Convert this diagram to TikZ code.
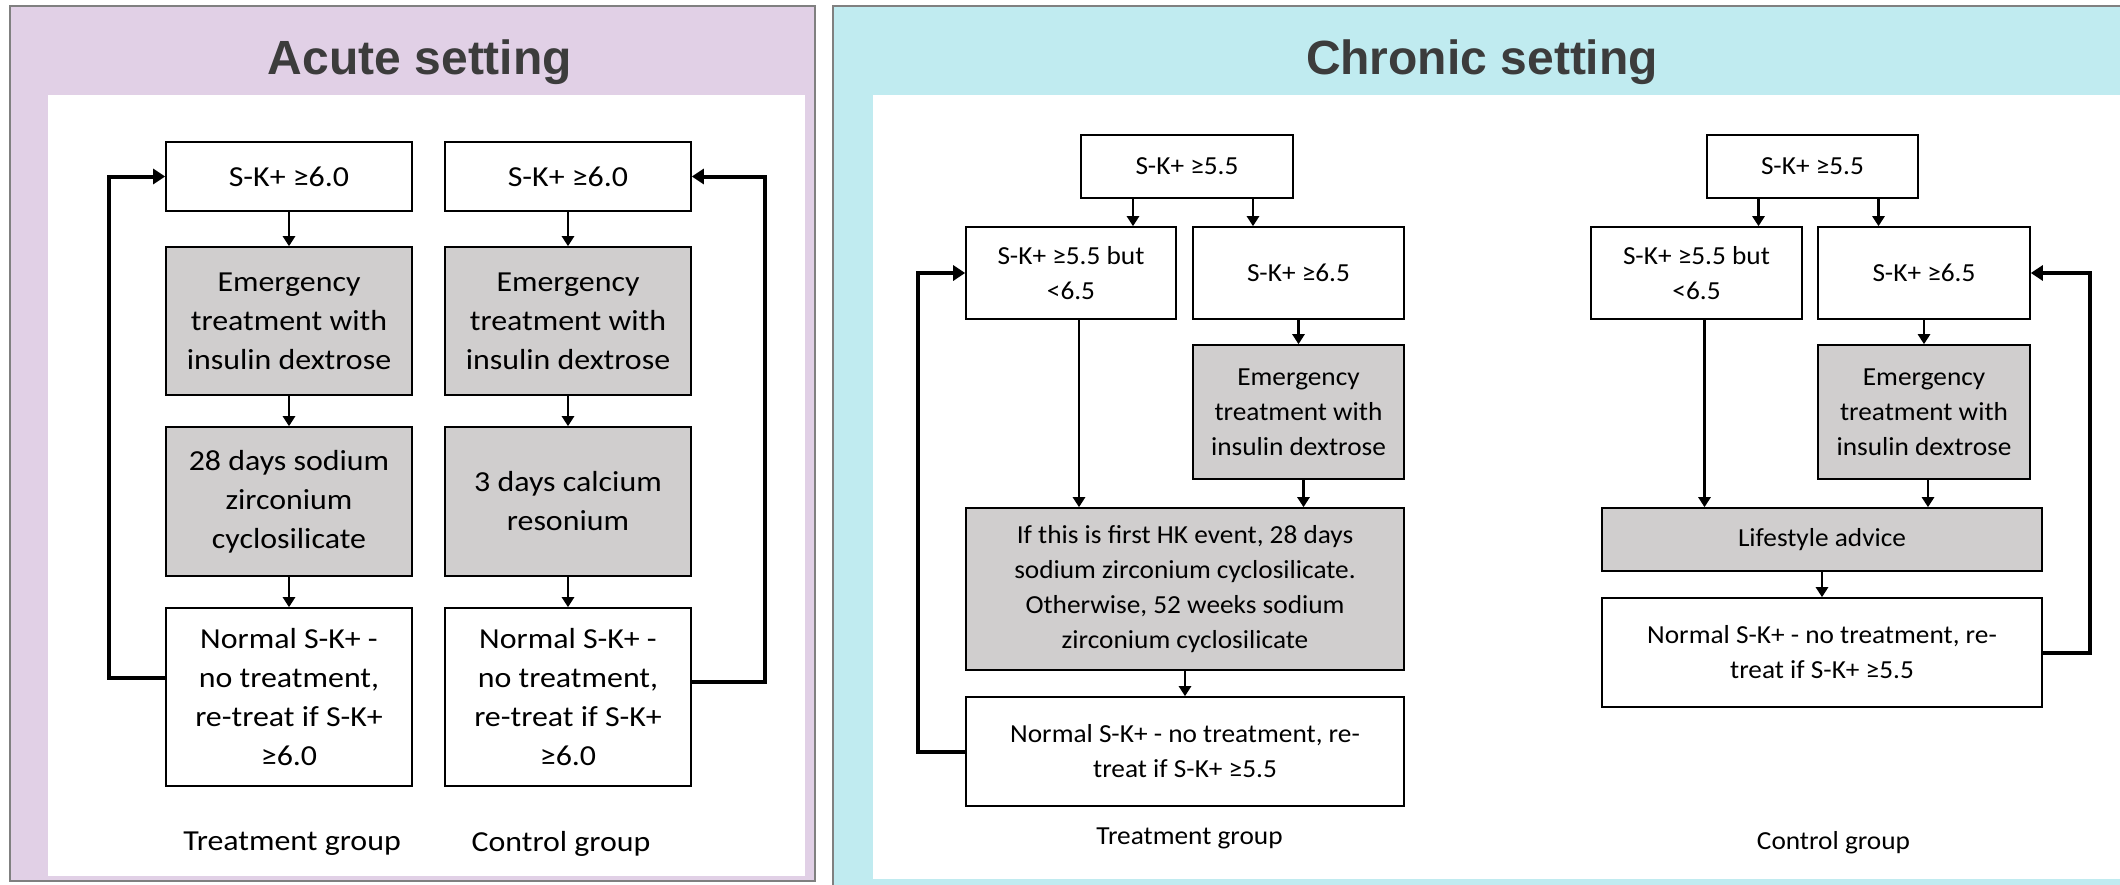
\documentclass[tikz,border=0pt]{standalone}
\usepackage{fontspec}
\usetikzlibrary{arrows.meta}

\newfontfamily\titlefont{Liberation Sans}
\newfontfamily\acutefont[FakeStretch=1.1]{Carlito}
\newfontfamily\chronfont[FakeStretch=1.05]{Carlito}

\definecolor{acutebg}{RGB}{225,208,230}
\definecolor{chronbg}{RGB}{192,235,240}
\definecolor{boxgrey}{RGB}{208,206,206}
\definecolor{titlegrey}{RGB}{60,60,60}

\tikzset{
    whitebox/.style={draw=black, line width=0.8pt, fill=white, align=center, inner sep=0pt},
    greybox/.style={whitebox, fill=boxgrey},
    acute/.style={font=\acutefont\fontsize{14.5}{19.5}\selectfont, minimum width=123pt},
    chron/.style={font=\chronfont\fontsize{13}{17.5}\selectfont},
    title/.style={font=\titlefont\bfseries\fontsize{24}{28}\selectfont, text=titlegrey},
    arr/.style={-{Triangle[length=5pt,width=6pt]}, line width=1.3pt},
    backline/.style={-{Triangle[length=6pt,width=7.5pt]}, line width=2pt},
}

\begin{document}
\begin{tikzpicture}[x=0.5pt, y=-0.5pt]
    \useasboundingbox (0,0) rectangle (2120,884);
    \fill[white] (0,0) rectangle (2120,884);

    % Panels
    \draw[gray, line width=0.6pt, fill=acutebg] (10,6) rectangle (815,881);
    \fill[white] (48,95) rectangle (805,876);
    \draw[gray, line width=0.6pt, fill=chronbg] (833,6) rectangle (2130,890);
    \fill[white] (873,95) rectangle (2120,879);

    \node[title] (acutetitle) at (420,62) {Acute setting};
    \node[title] (chrontitle) at (1482,62) {Chronic setting};

    % Acute setting
    \foreach \g/\x in {aT/289, aC/568} {
        \node[whitebox, acute, minimum height=34.5pt] (\g1) at (\x,176.5) {S-K+ ≥6.0};
        \node[greybox, acute, minimum height=74pt] (\g2) at (\x,321) {Emergency\\treatment with\\insulin dextrose};
        \node[whitebox, acute, minimum height=89pt] (\g4) at (\x,697) {Normal S-K+ -\\no treatment,\\re-treat if S-K+\\≥6.0};
    }
    \node[greybox, acute, minimum height=74.5pt] (aT3) at (289,501.5) {28 days sodium\\zirconium\\cyclosilicate};
    \node[greybox, acute, minimum height=74.5pt] (aC3) at (568,501.5) {3 days calcium\\resonium};

    \foreach \g in {aT, aC}
        \foreach \i/\j in {1/2, 2/3, 3/4}
            \draw[arr] (\g\i) -- (\g\j);

    \draw[backline] ([yshift=9.5pt]aT4.west) -- ++(-56,0) |- (aT1.west);
    \draw[backline] ([yshift=7.5pt]aC4.east) -- ++(73,0) |- (aC1.east);

    \node[acute] (aTlabel) at (292,844) {Treatment group};
    \node[acute] (aClabel) at (561,844) {Control group};

    % Chronic setting, treatment group
    \node[whitebox, chron, minimum width=106pt, minimum height=31.5pt] (cTtop) at (1187,166.5) {S-K+ ≥5.5};
    \node[whitebox, chron, minimum width=105pt, minimum height=46pt] (cTlow) at (1071,273) {S-K+ ≥5.5 but\\<6.5};
    \node[whitebox, chron, minimum width=105.5pt, minimum height=46pt] (cThigh) at (1298.5,273) {S-K+ ≥6.5};
    \node[greybox, chron, minimum width=105.5pt, minimum height=67pt] (cTem) at (1298.5,412) {Emergency\\treatment with\\insulin dextrose};
    \node[greybox, chron, minimum width=219pt, minimum height=81pt] (cTdrug) at (1185,589) {If this is first HK event, 28 days\\sodium zirconium cyclosilicate.\\Otherwise, 52 weeks sodium\\zirconium cyclosilicate};
    \node[whitebox, chron, minimum width=219pt, minimum height=54.5pt] (cTnorm) at (1185,751.5) {Normal S-K+ - no treatment, re-\\treat if S-K+ ≥5.5};

    \draw[arr] ([xshift=-27pt]cTtop.south) -- ([xshift=-27pt]cTtop.south |- cTlow.north);
    \draw[arr] ([xshift=33pt]cTtop.south) -- ([xshift=33pt]cTtop.south |- cThigh.north);
    \draw[arr] (cThigh) -- (cTem);
    \draw[arr] ([xshift=4pt]cTlow.south) -- ([xshift=4pt]cTlow.south |- cTdrug.north);
    \draw[arr] ([xshift=2.5pt]cTem.south) -- ([xshift=2.5pt]cTem.south |- cTdrug.north);
    \draw[arr] (cTdrug) -- (cTnorm);
    \draw[backline] (cTnorm.west) -- ++(-47,0) |- (cTlow.west);

    \node[chron] (cTlabel) at (1189.5,838) {Treatment group};

    % Chronic setting, control group
    \node[whitebox, chron, minimum width=105.5pt, minimum height=31.5pt] (cCtop) at (1812.5,166.5) {S-K+ ≥5.5};
    \node[whitebox, chron, minimum width=105.5pt, minimum height=46pt] (cClow) at (1696.5,273) {S-K+ ≥5.5 but\\<6.5};
    \node[whitebox, chron, minimum width=106pt, minimum height=46pt] (cChigh) at (1924,273) {S-K+ ≥6.5};
    \node[greybox, chron, minimum width=106pt, minimum height=67pt] (cCem) at (1924,412) {Emergency\\treatment with\\insulin dextrose};
    \node[greybox, chron, minimum width=220pt, minimum height=31.5pt] (cClife) at (1822,539.5) {Lifestyle advice};
    \node[whitebox, chron, minimum width=220pt, minimum height=54.5pt] (cCnorm) at (1822,652.5) {Normal S-K+ - no treatment, re-\\treat if S-K+ ≥5.5};

    \draw[arr] ([xshift=-27pt]cCtop.south) -- ([xshift=-27pt]cCtop.south |- cClow.north);
    \draw[arr] ([xshift=33pt]cCtop.south) -- ([xshift=33pt]cCtop.south |- cChigh.north);
    \draw[arr] (cChigh) -- (cCem);
    \draw[arr] ([xshift=4pt]cClow.south) -- ([xshift=4pt]cClow.south |- cClife.north);
    \draw[arr] ([xshift=2pt]cCem.south) -- ([xshift=2pt]cCem.south |- cClife.north);
    \draw[arr] (cClife) -- (cCnorm);
    \draw[backline] (cCnorm.east) -- ++(47,0) |- (cChigh.east);

    \node[chron] (cClabel) at (1833.5,843) {Control group};
\end{tikzpicture}
\end{document}
